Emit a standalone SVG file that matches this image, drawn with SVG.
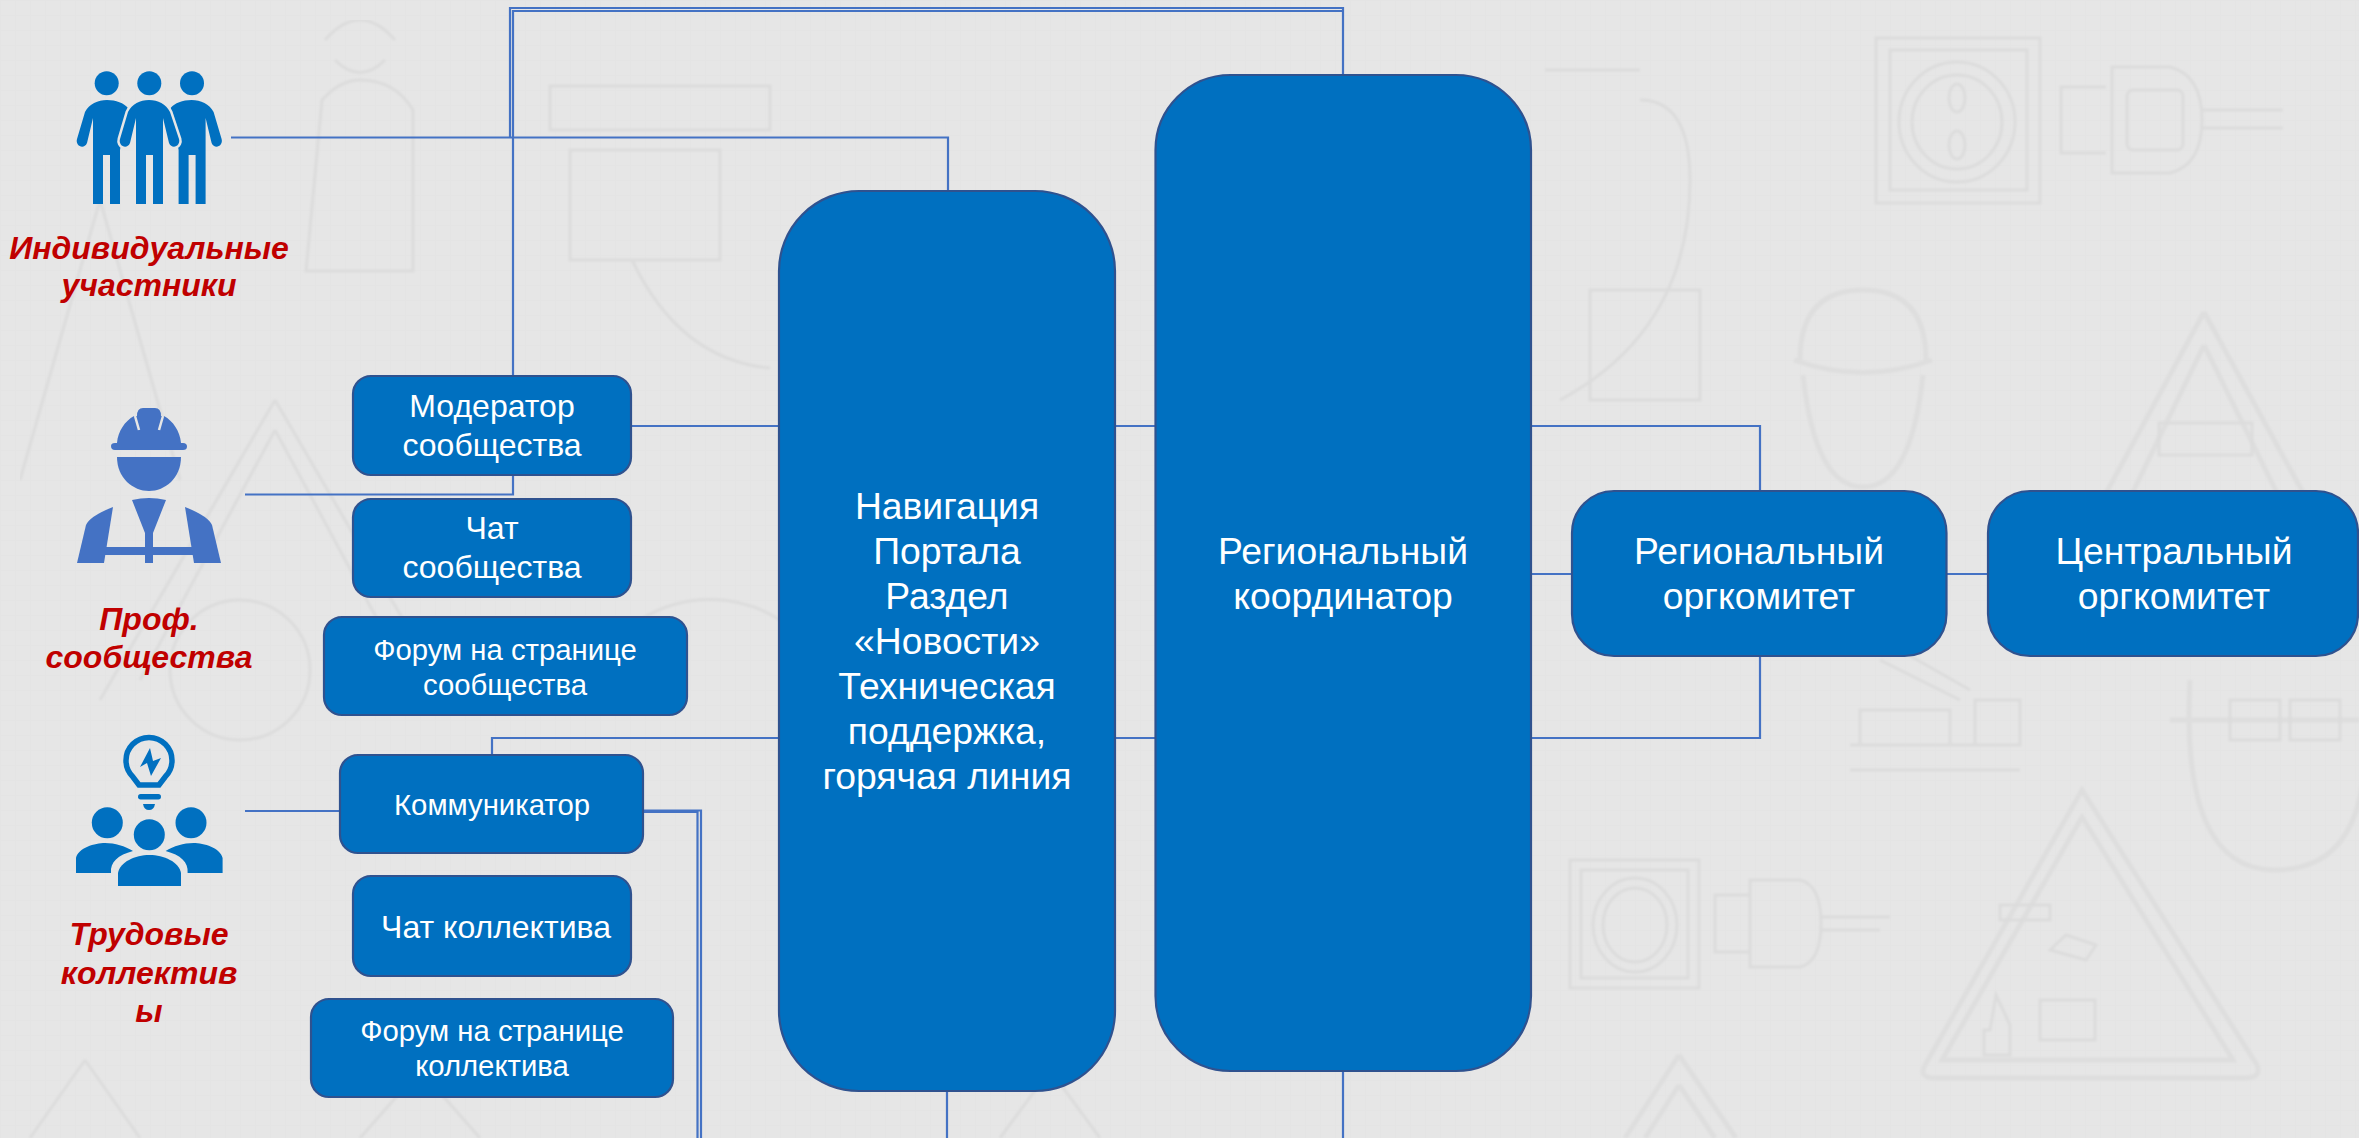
<svg xmlns="http://www.w3.org/2000/svg" width="2359" height="1138" viewBox="0 0 2359 1138">
<style>
.box{fill:#0070C0;stroke:#2F528F;stroke-width:2.2}
.t{font-family:"Liberation Sans",Arial,sans-serif;fill:#fff;text-anchor:middle}
.big{font-size:37.300px}
.mid{font-size:32px}
.sm{font-size:29.300px}
.r{font-family:"Liberation Sans",Arial,sans-serif;font-size:32px;font-weight:bold;font-style:italic;fill:#C00000;text-anchor:middle}
.c{fill:none;stroke:#4472C4;stroke-width:2.200}
.w{fill:none;stroke:#dcdcdc;stroke-width:3}
.w2{fill:none;stroke:#dedede;stroke-width:5}
.ib{fill:#0070C0}
.iw{fill:#4472C4}
</style>
<defs>
<pattern id="grid" width="15" height="15" patternUnits="userSpaceOnUse"><path d="M15 0H0V15" fill="none" stroke="#e2e2e2" stroke-width="1"/></pattern>
<filter id="soft" x="0" y="0" width="1" height="1"><feGaussianBlur stdDeviation="1.300"/></filter>
</defs>
<rect width="2359" height="1138" fill="#e6e6e6"/>
<rect width="2359" height="1138" fill="url(#grid)"/>
<g id="background-art" filter="url(#soft)">
<rect class="w" x="1876" y="38" width="164" height="165"/><rect class="w" x="1890" y="50" width="137" height="140"/>
<ellipse class="w" cx="1957" cy="122" rx="58" ry="60"/><ellipse class="w" cx="1957" cy="122" rx="45" ry="47"/>
<ellipse class="w" cx="1957" cy="98" rx="8" ry="14"/><ellipse class="w" cx="1957" cy="145" rx="8" ry="14"/>
<path class="w" d="M2106 87H2061V153H2106M2112 67H2170Q2202 75 2202 120Q2202 165 2170 173H2112Z"/>
<rect class="w" x="2127" y="90" width="56" height="60" rx="6"/><path class="w" d="M2202 110H2283M2202 128H2283"/>
<path class="w2" d="M1794 360Q1863 385 1932 360M1800 360Q1800 290 1863 290Q1926 290 1926 360M1803 375Q1815 487 1863 487Q1911 487 1923 375"/>
<path class="w2" d="M2204 312L2340 560M2204 312L2070 560M2204 345L2310 560M2204 345L2100 560"/>
<rect class="w" x="2159" y="423" width="93" height="32"/>
<path class="w2" d="M2082 790L2257 1065Q2262 1078 2245 1078H1935Q1918 1078 1925 1065ZM2082 817L2233 1060H1942Z"/>
<path class="w" d="M2040 1000h55v40h-55zM1990 1030l6 -35l14 30v30h-26v-25zM2050 950l16 -15 30 10-10 15zM2000 905h50v15h-50z"/>
<rect class="w" x="1570" y="860" width="129" height="128"/><rect class="w" x="1581" y="870" width="107" height="108"/>
<ellipse class="w" cx="1635" cy="925" rx="42" ry="47"/><ellipse class="w" cx="1635" cy="925" rx="32" ry="37"/>
<path class="w" d="M1750 895H1715V952H1750M1750 880H1800Q1821 885 1821 923Q1821 962 1800 967H1750Z"/><path class="w" d="M1821 917H1890M1821 930H1880"/>
<path class="w2" d="M1679 1055L1625 1138M1679 1055L1736 1138M1679 1085L1645 1138M1679 1085L1715 1138"/>
<path class="w2" d="M2190 680Q2180 870 2275 870Q2359 870 2365 760M2170 720H2359"/>
<path class="w" d="M1850 745H2020M1850 770H2020M1860 710H1950V745H1860ZM1975 700H2020V745H1975ZM1880 660l80 40M1900 650l70 40"/>
<path class="w" d="M2230 700h50v40h-50zM2290 700h50v40h-50z"/>
<path class="w" d="M306 271L322 100Q340 80 360 80Q395 80 413 110L413 271ZM325 40Q360 0 395 40M335 60Q360 85 385 60"/>
<path class="w" d="M275 400L100 700M275 400L450 700M275 430L140 680M275 430L410 680"/>
<path class="w" d="M20 480L100 200L180 480M550 86H770V130H550ZM570 150H720V260H570ZM632 260Q680 360 770 368"/>
<path class="w" d="M640 620A130 130 0 0 1 780 620M240 600A70 70 0 1 1 240 740A70 70 0 1 1 240 600Z"/>
<path class="w" d="M85 1060L30 1138M85 1060L140 1138M420 1070L360 1138M420 1070L480 1138M1050 1070L1000 1138M1050 1070L1100 1138"/>
<path class="w" d="M1545 70H1640M1640 100Q1690 100 1690 180Q1690 330 1560 400M1590 290H1700V400H1590Z"/>
</g>
<g id="connectors">
<path class="c" d="M510 138V8H1343V75"/>
<path class="c" d="M231 137.500H948V191"/>
<path class="c" d="M513 376V11H1343"/>
<path class="c" d="M245 494.500H513V475"/>
<path class="c" d="M631 426H779"/>
<path class="c" d="M492 755V738H779"/>
<path class="c" d="M245 811H340"/>
<path class="c" d="M643 810.500H701V1138"/>
<path class="c" d="M643 812H697.500V1138"/>
<path class="c" d="M1115 426H1155"/>
<path class="c" d="M1115 738H1155"/>
<path class="c" d="M947 1091V1138"/>
<path class="c" d="M1343 1071V1138"/>
<path class="c" d="M1531 426H1760V491"/>
<path class="c" d="M1531 738H1760V656"/>
<path class="c" d="M1531 574H1572"/>
<path class="c" d="M1946 574H1988"/>
</g>
<g id="icon-individual">
<circle class="ib" cx="106.700" cy="83.300" r="12"/><circle class="ib" cx="149.300" cy="83.300" r="12"/><circle class="ib" cx="192" cy="83.300" r="12"/>
<path class="ib" d="M107 100C116 100 124 103 128 108L125 120L120 150V204H110V155H103V204H93V118L87 143C84 150 75 146 77 139L85 112C89 104 98 100 107 100Z"/>
<path class="ib" d="M191.600 100C182.600 100 174.600 103 170.600 108L173.600 120L178.600 150V204H188.600V155H195.600V204H205.600V118L211.600 143C214.600 150 223.600 146 221.600 139L213.600 112C209.600 104 200.600 100 191.600 100Z"/>
<path class="ib" stroke="#e6e6e6" stroke-width="5" paint-order="stroke" d="M149 100C158 100 166 104 170 112L179 139C181 146 172 150 169 143L163 118V204H153V155H146V204H136V118L130 143C127 150 118 146 120 139L128 112C132 104 140 100 149 100Z"/>
</g>
<g id="icon-worker">
<path class="iw" d="M111 446Q111 443 115 443H117C118 431 125 421 134 416H137Q137 408 143 408H155Q161 408 161 416H164C173 421 180 431 181 443H183Q187 443 187 446.500Q187 450 183 450H115Q111 450 111 446Z"/>
<path d="M135 416L139 430M163 416L159 430" stroke="#e6e6e6" stroke-width="2.500" fill="none"/>
<path class="iw" d="M117 457H181C181 478 165 491 149 491C133 491 117 478 117 457Z"/>
<path class="iw" d="M132 500Q149 496 166 500L153 533V547H193V555H153V563H145V555H105V547H145V533Z"/>
<path class="iw" d="M113 507L104 563H77L86 525Q90 516 113 507Z"/>
<path class="iw" d="M185 507L194 563H221L212 525Q208 516 185 507Z"/>
</g>
<g id="icon-team">
<path fill="none" stroke="#0070C0" stroke-width="5.500" d="M139 785L133 777A23 23 0 1 1 165 777L159 785Z"/>
<path class="ib" d="M150 748L140 767L147 763L151 776L161 758L153 761Z"/>
<rect class="ib" x="138" y="794" width="23" height="5.500" rx="2.700"/>
<path class="ib" d="M143 804H155Q154 810 149 810Q144 810 143 804Z"/>
<circle class="ib" cx="107.300" cy="822.700" r="15.500"/><circle class="ib" cx="149.300" cy="834.700" r="15.500"/><circle class="ib" cx="191" cy="822.700" r="15.500"/>
<path class="ib" d="M76 873V858C78 848 95 843 105 843C115 843 125 846 133 851C118 855 110 862 111 873Z"/>
<path class="ib" d="M222.600 873V858C220.600 848 203.600 843 193.600 843C183.600 843 173.600 846 165.600 851C180.600 855 188.600 862 187.600 873Z"/>
<path class="ib" d="M118 886V873C120 862 135 855 149.500 855C164 855 179 862 181 873V886Z"/>
</g>
<g id="label-individual"><text class="r" x="149" y="259">Индивидуальные</text><text class="r" x="149" y="296">участники</text></g>
<g id="label-prof"><text class="r" x="149" y="630">Проф.</text><text class="r" x="149" y="668">сообщества</text></g>
<g id="label-team"><text class="r" x="149" y="945">Трудовые</text><text class="r" x="149" y="984">коллектив</text><text class="r" x="149" y="1022">ы</text></g>
<g id="moderator"><rect class="box" x="353" y="376" width="278" height="99" rx="18"/><text class="t mid" x="492" y="417">Модератор</text><text class="t mid" x="492" y="456">сообщества</text></g>
<g id="chat-community"><rect class="box" x="353" y="499" width="278" height="98" rx="18"/><text class="t mid" x="492" y="539">Чат</text><text class="t mid" x="492" y="578">сообщества</text></g>
<g id="forum-community"><rect class="box" x="324" y="617" width="363" height="98" rx="18"/><text class="t sm" x="505" y="659.500">Форум на странице</text><text class="t sm" x="505" y="694.500">сообщества</text></g>
<g id="communicator"><rect class="box" x="340" y="755" width="303" height="98" rx="18"/><text class="t sm" x="492" y="815">Коммуникатор</text></g>
<g id="chat-team"><rect class="box" x="353" y="876" width="278" height="100" rx="18"/><text class="t mid" x="496" y="938">Чат коллектива</text></g>
<g id="forum-team"><rect class="box" x="311" y="999" width="362" height="98" rx="18"/><text class="t sm" x="492" y="1041">Форум на странице</text><text class="t sm" x="492" y="1076">коллектива</text></g>
<g id="navigation"><rect class="box" x="779" y="191" width="336" height="900" rx="80"/>
<text class="t big" x="947" y="519">Навигация</text><text class="t big" x="947" y="564">Портала</text><text class="t big" x="947" y="609">Раздел</text><text class="t big" x="947" y="654">«Новости»</text><text class="t big" x="947" y="699">Техническая</text><text class="t big" x="947" y="744">поддержка,</text><text class="t big" x="947" y="789">горячая линия</text></g>
<g id="regional-coordinator"><rect class="box" x="1155.500" y="75" width="375.500" height="996" rx="75"/><text class="t big" x="1343" y="564">Региональный</text><text class="t big" x="1343" y="609">координатор</text></g>
<g id="regional-committee"><rect class="box" x="1572" y="491" width="374.500" height="165" rx="42"/><text class="t big" x="1759" y="564">Региональный</text><text class="t big" x="1759" y="609">оргкомитет</text></g>
<g id="central-committee"><rect class="box" x="1988" y="491" width="370" height="165" rx="42"/><text class="t big" x="2174" y="564">Центральный</text><text class="t big" x="2174" y="609">оргкомитет</text></g>
</svg>
